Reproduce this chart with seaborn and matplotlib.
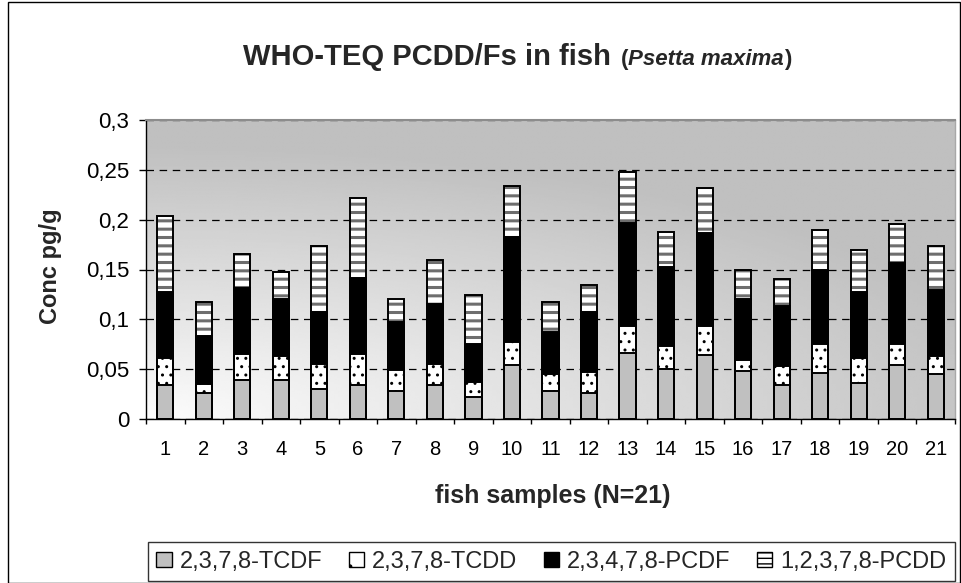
import numpy as np
import matplotlib
matplotlib.use("Agg")
import matplotlib.pyplot as plt
import matplotlib.patches as mpatches
import seaborn as sns

# data (pg/g per congener, stacked bottom -> top)
samples = [str(i) for i in range(1, 22)]
tcdf = [0.034, 0.026, 0.039, 0.039, 0.030, 0.034, 0.028, 0.034, 0.022, 0.054, 0.028,
        0.026, 0.066, 0.050, 0.064, 0.048, 0.034, 0.046, 0.036, 0.054, 0.045]
tcdd = [0.027, 0.009, 0.026, 0.024, 0.025, 0.031, 0.021, 0.021, 0.015, 0.023, 0.017,
        0.021, 0.027, 0.023, 0.029, 0.011, 0.019, 0.029, 0.025, 0.021, 0.018]
pcdf = [0.066, 0.048, 0.066, 0.057, 0.052, 0.076, 0.048, 0.060, 0.038, 0.106, 0.042,
        0.060, 0.104, 0.080, 0.094, 0.061, 0.060, 0.075, 0.066, 0.082, 0.066]
pcdd = [0.077, 0.034, 0.035, 0.027, 0.067, 0.081, 0.023, 0.045, 0.049, 0.051, 0.030,
        0.027, 0.051, 0.035, 0.045, 0.030, 0.027, 0.040, 0.043, 0.039, 0.045]
series_names = ["2,3,7,8-TCDF", "2,3,7,8-TCDD", "2,3,4,7,8-PCDF", "1,2,3,7,8-PCDD"]
y_ticks = [0, 0.05, 0.1, 0.15, 0.2, 0.25, 0.3]
y_tick_labels = ["0", "0,05", "0,1", "0,15", "0,2", "0,25", "0,3"]

sns.set_style("white")
plt.rcParams["font.family"] = ["Liberation Sans", "DejaVu Sans"]

fig = plt.figure(figsize=(9.62, 5.83), dpi=100)
ax = fig.add_axes([146 / 962, 1 - 419 / 583, 809 / 962, 299 / 583])

# gradient background, light at lower left, grey at top/right
u = np.linspace(0, 1, 200)
v = np.linspace(1, 0, 200)
U, V = np.meshgrid(u, v)
t = np.clip(np.sqrt((0.9 * U) ** 2 + (1.1 * V) ** 2), 0, 1)
shade = (252 - 60 * t) / 255
ax.imshow(shade, cmap="gray", vmin=0, vmax=1, extent=[-0.5, 20.5, 0, 0.3],
          aspect="auto", zorder=0, interpolation="bilinear")

# cumulative tops, drawn tallest first so lower layers sit on top
cum = np.cumsum([tcdf, tcdd, pcdf, pcdd], axis=0)
bw = 0.42
lw = 1.4

with plt.rc_context({"hatch.linewidth": 2.2}):
    sns.barplot(x=samples, y=cum[3], order=samples, ax=ax, width=bw, color="white",
                saturation=1, errorbar=None, edgecolor="#6e6e6e", linewidth=0, hatch="--")
for p in ax.patches:
    if hasattr(p, "set_hatch_linewidth"):
        p.set_hatch_linewidth(2.2)
n0 = len(ax.patches)
sns.barplot(x=samples, y=cum[2], order=samples, ax=ax, width=bw, color="black",
            saturation=1, errorbar=None, edgecolor="black", linewidth=lw)
with plt.rc_context({"hatch.linewidth": 1.0}):
    sns.barplot(x=samples, y=cum[1], order=samples, ax=ax, width=bw, color="white",
                saturation=1, errorbar=None, edgecolor="black", linewidth=lw, hatch="..")
sns.barplot(x=samples, y=cum[0], order=samples, ax=ax, width=bw, color="#c0c0c0",
            saturation=1, errorbar=None, edgecolor="black", linewidth=lw)
sns.barplot(x=samples, y=cum[3], order=samples, ax=ax, width=bw, color="black",
            fill=False, errorbar=None, linewidth=lw)
for p in ax.patches[n0:]:
    if hasattr(p, "set_hatch_linewidth"):
        p.set_hatch_linewidth(1.0)

ax.set_xlim(-0.5, 20.5)
ax.set_ylim(0, 0.3)
ax.set_yticks(y_ticks)
ax.set_yticklabels(y_tick_labels)
ax.set_xticks(range(len(samples)))
ax.set_xticklabels(samples)
ax.set_xticks(np.arange(-0.5, len(samples), 1), minor=True)
ax.set_xlabel("")
ax.set_ylabel("")

ax.set_axisbelow(True)
ax.yaxis.grid(True, color="black", linestyle=(0, (6, 4.5)), linewidth=0.9)
ax.xaxis.grid(False)

ax.tick_params(axis="x", which="major", length=0, pad=15, labelsize=14.5, colors="black")
ax.tick_params(axis="x", which="minor", length=3.5, width=1, direction="out",
               bottom=True, color="black")
ax.tick_params(axis="y", which="major", length=5, width=1, direction="out",
               left=True, pad=7, labelsize=16, colors="black")

for side in ["left", "bottom"]:
    ax.spines[side].set_color("black")
    ax.spines[side].set_linewidth(1)
ax.spines["top"].set_color("#8c8c8c")
ax.spines["top"].set_linewidth(1.5)
ax.spines["right"].set_color("#a8a8a8")
ax.spines["right"].set_linewidth(1)

# axis titles
fig.text(50 / 962, 1 - 266 / 583, "Conc pg/g", rotation=90, ha="center", va="center",
         fontsize=17, fontweight="bold")
fig.text(553 / 962, 1 - 503 / 583, "fish samples (N=21)", ha="center", va="baseline",
         fontsize=18, fontweight="bold")

# title built from pieces (bold + bold italic species name)
renderer = fig.canvas.get_renderer()
base_y = 1 - 65 / 583
pieces = [("WHO-TEQ PCDD/Fs in fish", 21, "normal", 0),
          ("(", 16, "normal", 10),
          ("Psetta maxima", 16, "italic", 0),
          (")", 16, "normal", 0)]
texts = []
widths = []
for s, size, style, gap in pieces:
    tx = fig.text(0, base_y, s, fontsize=size, fontweight="bold", fontstyle=style,
                  ha="left", va="baseline")
    w = tx.get_window_extent(renderer).width
    texts.append(tx)
    widths.append((w, gap))
total = sum(w + g for w, g in widths)
x = 517 - total / 2
for tx, (w, g) in zip(texts, widths):
    x += g
    tx.set_x(x / 962)
    x += w

# legend
handles = [
    mpatches.Patch(facecolor="#c0c0c0", edgecolor="black", linewidth=1),
    mpatches.Patch(facecolor="white", edgecolor="black", linewidth=1, hatch="."),
    mpatches.Patch(facecolor="black", edgecolor="black", linewidth=1),
    mpatches.Patch(facecolor="white", edgecolor="black", linewidth=1, hatch="---"),
]
leg = fig.legend(handles, series_names, loc="lower left",
                 bbox_to_anchor=(148 / 962, 2 / 583, 807 / 962, 45 / 583),
                 mode="expand", ncol=4, fontsize=17, frameon=True, fancybox=False,
                 edgecolor="black", handlelength=0.65, handleheight=0.65,
                 handletextpad=0.35, columnspacing=1.0, borderpad=0.35, borderaxespad=0)
leg.get_frame().set_linewidth(1)

# outer frame of the chart area
fig.patches.append(mpatches.Rectangle((8 / 962, 0.5 / 583), 952 / 962, 581 / 583,
                                      transform=fig.transFigure, fill=False,
                                      edgecolor="black", linewidth=1))

fig.savefig("out.png", dpi=100)
